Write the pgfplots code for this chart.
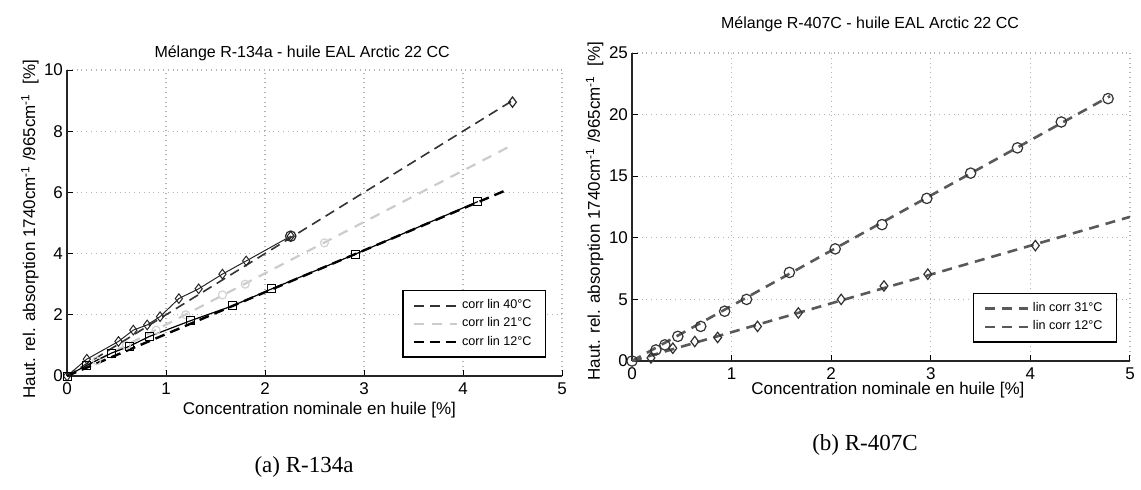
\documentclass[border=0pt]{standalone}
\usepackage{pgfplots}
\pgfplotsset{compat=1.18}
\usepackage{fontspec}
\setmainfont{Liberation Sans}
\newfontfamily\capfont{Liberation Serif}

\pgfplotsset{
  base/.style={
    scale only axis, anchor=south west,
    xmin=0, xmax=5, ymin=0,
    axis x line*=bottom, axis y line*=left,
    grid=major,
    grid style={dotted, gray!60, line width=0.6pt},
    xtick={0,1,2,3,4,5},
    tick align=inside, major tick length=3pt,
    tick style={black, line width=0.5pt},
    tick label style={font=\fontsize{8.5}{9}\selectfont},
    yticklabel style={xshift=1.5pt},
    /pgf/number format/assume math mode=true,
    axis line style={line width=0.8pt, black!85},
    label style={font=\fontsize{8.5}{10}\selectfont},
    title style={font=\fontsize{8}{10}\selectfont, anchor=center, yshift=0pt},
    legend cell align=left,
    legend style={font=\fontsize{6.3}{7}\selectfont, draw=black, line width=0.6pt,
      fill=white, inner xsep=5pt, inner ysep=2.5pt, row sep=-1pt,
      /tikz/every even column/.append style={column sep=18pt}},
    legend image code/.code={\draw[#1] (0cm,0cm) -- (0.75cm,0cm);},
  }
}

\begin{document}
\begin{tikzpicture}
\path[use as bounding box] (0,0) rectangle (570.5pt,244.5pt);

% ---------------- (a) R-134a ----------------
\begin{axis}[base,
  at={(33.5pt,56.5pt)}, width=247.5pt, height=153pt,
  ymax=10, ytick={0,2,4,6,8,10},
  title={Mélange R-134a - huile EAL Arctic 22 CC},
  title style={at={(axis description cs:0.475,1.014)}},
  xlabel={Concentration nominale en huile [\%]},
  xlabel style={at={(axis description cs:0.51,-0.11)}, anchor=center},
  ylabel={Haut. rel. absorption 1740cm\textsuperscript{-1} /965cm\textsuperscript{-1} \ [\%]},
  ylabel style={at={(axis description cs:-0.075,0.48)}, anchor=center, rotate=0},
  legend style={at={(0.968,0.06)}, anchor=south east},
]
% fit lines
\addplot[black!80, line width=0.8pt, dash pattern=on 5pt off 3pt] coordinates {(0,0) (4.5,9.0)};
\addlegendentry{corr lin 40°C}
\addplot[gray!40, line width=1.1pt, dash pattern=on 5pt off 4pt] coordinates {(0,0) (4.47,7.5)};
\addlegendentry{corr lin 21°C}
\addplot[black, line width=1.2pt, dash pattern=on 5pt off 3pt] coordinates {(0,0) (4.42,6.05)};
\addlegendentry{corr lin 12°C}
% 21 C points
\addplot[forget plot, only marks, mark=o, mark size=2pt, gray!35, line width=0.6pt] coordinates {
(0.3,0.5) (0.6,1.0) (0.9,1.5) (1.2,2.0) (1.57,2.65) (1.8,3.0) (2.6,4.35)};
% 40 C data
\addplot[forget plot, black!85, line width=0.5pt, mark=diamond, mark size=2.4pt,
  mark options={solid, fill=white, line width=0.5pt}] coordinates {
(0,0) (0.2,0.55) (0.52,1.13) (0.67,1.5) (0.81,1.67) (0.94,1.94) (1.13,2.53)
(1.33,2.85) (1.57,3.33) (1.81,3.76) (2.26,4.57)};
\addplot[forget plot, only marks, mark=o, mark size=2.6pt, black!85, line width=0.6pt] coordinates {(2.26,4.57)};
\addplot[forget plot, only marks, mark=diamond, mark size=2.6pt, black!85, line width=0.6pt,
  mark options={fill=white}] coordinates {(4.5,8.95)};
% 12 C data
\addplot[forget plot, black, line width=0.6pt, mark=square, mark size=2pt,
  mark options={solid, fill=white, line width=0.5pt}] coordinates {
(0,0) (0.2,0.35) (0.45,0.75) (0.63,0.97) (0.83,1.29) (1.25,1.81) (1.67,2.29)
(2.07,2.85) (2.91,3.98) (4.15,5.7)};
\end{axis}

% ---------------- (b) R-407C ----------------
\begin{axis}[base,
  at={(316pt,64pt)}, width=249pt, height=154pt,
  ymax=25, ytick={0,5,10,15,20,25},
  title={Mélange R-407C - huile EAL Arctic 22 CC},
  title style={at={(axis description cs:0.478,1.055)}},
  xlabel={Concentration nominale en huile [\%]},
  xlabel style={at={(axis description cs:0.514,-0.094)}, anchor=center},
  ylabel={Haut. rel. absorption 1740cm\textsuperscript{-1} /965cm\textsuperscript{-1} \ [\%]},
  ylabel style={at={(axis description cs:-0.075,0.487)}, anchor=center, rotate=0},
  legend style={at={(0.974,0.06)}, anchor=south east},
]
\addplot[gray!70!black, line width=1.3pt, dash pattern=on 5pt off 3.5pt] coordinates {(0,0) (4.8,21.5)};
\addlegendentry{lin corr 31°C}
\addplot[gray!70!black, line width=1.3pt, dash pattern=on 5pt off 3.5pt] coordinates {(0,0) (5.0,11.7)};
\addlegendentry{lin corr 12°C}
\addplot[forget plot, only marks, mark=o, mark size=2.6pt, gray!40!black, line width=0.6pt] coordinates {
(0,0) (0.24,0.9) (0.33,1.31) (0.46,2.0) (0.69,2.81) (0.93,4.04) (1.15,5.0)
(1.58,7.19) (2.04,9.1) (2.51,11.07) (2.96,13.2) (3.40,15.25) (3.87,17.3) (4.31,19.4) (4.78,21.3)};
\addplot[forget plot, only marks, mark=diamond, mark size=2.6pt, gray!40!black, line width=0.6pt,
  mark options={fill=white}] coordinates {
(0.19,0.25) (0.41,1.04) (0.63,1.58) (0.86,1.91) (1.26,2.81) (1.67,3.9)
(2.10,5.0) (2.53,6.09) (2.97,7.05) (4.05,9.37)};
\end{axis}

\node[font=\capfont\fontsize{11.5}{13}\selectfont] at (152pt,11pt) {(a) R-134a};
\node[font=\capfont\fontsize{11.5}{13}\selectfont] at (432.5pt,22pt) {(b) R-407C};
\end{tikzpicture}
\end{document}
